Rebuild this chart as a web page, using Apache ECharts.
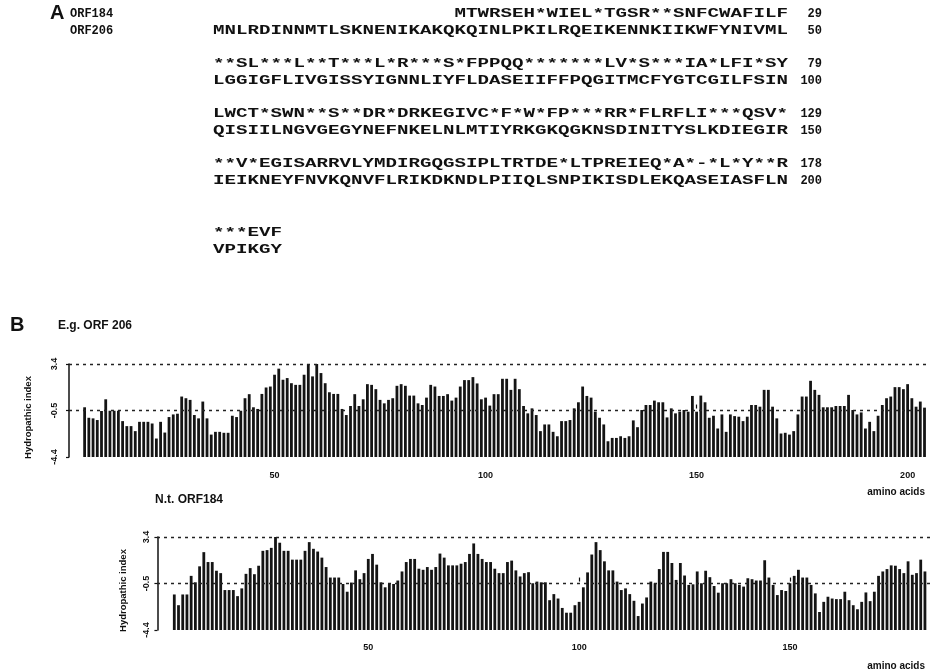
<!DOCTYPE html>
<html><head><meta charset="utf-8">
<script src="https://cdn.jsdelivr.net/npm/echarts@6/dist/echarts.min.js"></script>
<style>html,body{margin:0;padding:0;background:#fff}#c{width:930px;height:672px}</style>
</head><body><div id="c"></div>
<script>
// ---------- Panel A : sequences ----------
const orf184Lines = [
  'MTWRSEH*WIEL*TGSR**SNFCWAFILF',
  '**SL***L**T***L*R***S*FPPQQ*******LV*S***IA*LFI*SY',
  'LWCT*SWN**S**DR*DRKEGIVC*F*W*FP***RR*FLRFLI***QSV*',
  '**V*EGISARRVLYMDIRGQGSIPLTRTDE*LTPREIEQ*A*-*L*Y**R',
  '***EVF'
];
const orf206Lines = [
  'MNLRDINNMTLSKNENIKAKQKQINLPKILRQEIKENNKIIKWFYNIVML',
  'LGGIGFLIVGISSYIGNNLIYFLDASEIIFFPQGITMCFYGTCGILFSIN',
  'QISIILNGVGEGYNEFNKELNLMTIYRKGKQGKNSDINITYSLKDIEGIR',
  'IEIKNEYFNVKQNVFLRIKDKNDLPIIQLSNPIKISDLEKQASEIASFLN',
  'VPIKGY'
];
const orf184Ends = ['29', '79', '129', '178', ''];
const orf206Ends = ['50', '100', '150', '200', ''];
const rowLabels = ['ORF184', 'ORF206'];

// ---------- Panel B : hydropathy profiles ----------
const topTitle = 'E.g. ORF 206';
const bottomTitle = 'N.t. ORF184';
const topFirstResidue = 5;
const topValues = [
  -0.23,-1.11,-1.16,-1.30,-0.54,0.44,-0.52,-0.52,-0.52,-1.39,
  -1.81,-1.81,-2.23,-1.45,-1.45,-1.45,-1.59,-2.85,-1.45,-2.35,
  -1.05,-0.83,-0.77,0.67,0.53,0.39,-0.88,-1.16,0.25,-1.16,
  -2.52,-2.29,-2.29,-2.37,-2.37,-0.94,-1.05,-0.52,0.53,0.87,
  -0.23,-0.37,0.89,1.43,1.51,2.50,3.01,2.08,2.22,1.79,
  1.65,1.65,2.50,3.40,2.36,3.40,2.64,1.79,1.03,0.89,
  0.89,-0.37,-0.88,-0.12,0.87,-0.12,
  0.44,1.71,1.65,1.29,0.39,0.10,0.39,0.53,1.57,1.71,1.57,
  0.75,0.75,0.10,-0.04,0.58,1.65,1.51,0.72,0.72,0.87,
  0.33,0.58,1.51,2.05,2.05,2.30,1.77,0.44,0.58,-0.09,
  0.87,0.87,2.16,2.16,1.23,2.16,1.29,-0.12,-0.74,-0.32,
  -0.88,-2.23,-1.67,-1.67,-2.29,-2.66,-1.39,-1.39,-1.30,-0.32,
  0.19,1.51,0.72,0.58,-0.60,-1.11,-1.67,-3.08,-2.80,-2.80,
  -2.66,-2.80,-2.66,-1.33,-1.90,-0.46,-0.04,
  -0.04,0.33,0.19,0.19,-1.08,-0.32,-0.74,-0.60,-0.46,-0.60,
  0.72,-0.60,0.75,0.19,-1.11,-0.94,-2.01,-0.83,-2.29,-0.83,
  -0.97,-1.02,-1.39,-1.02,-0.04,-0.04,-0.18,1.23,1.23,-0.18,
  -1.16,-2.43,-2.37,-2.52,-2.23,-0.83,0.67,0.67,1.99,1.23,
  0.81,-0.23,-0.23,-0.23,-0.12,-0.12,-0.12,0.81,-0.46,-0.83,
  -0.66,-2.01,-1.45,-2.23,-0.94,-0.04,0.53,0.67,1.46,1.46,
  1.29,1.71,0.53,-0.18,0.25,-0.26
];
const bottomFirstResidue = 4;
const bottomValues = [
  -1.42,-2.32,-1.42,-1.42,0.14,-0.40,0.94,2.13,1.30,1.30,
  0.57,0.37,-1.05,-1.05,-1.05,-1.56,-0.91,0.31,0.79,0.28,
  0.99,2.24,2.30,2.49,3.40,2.92,2.24,2.24,1.50,1.50,
  1.50,2.24,2.97,2.41,2.18,1.67,0.88,0.00,0.00,0.00,
  -0.54,-1.19,-0.42,0.60,-0.14,0.37,1.56,1.98,1.08,-0.40,
  -0.82,-0.54,-0.54,-0.25,0.51,1.30,1.56,
  1.56,0.74,0.65,0.88,0.65,0.88,2.01,1.67,1.02,1.02,
  1.02,1.16,1.30,1.98,2.86,1.98,1.56,1.30,1.30,0.74,
  0.37,0.37,1.30,1.42,0.60,0.09,0.37,0.45,-0.48,-0.34,
  -0.40,-0.40,-1.90,-1.39,-1.76,-2.55,-2.95,-2.95,-2.32,-2.04,
  -0.82,0.43,1.93,2.97,2.30,1.36,0.60,0.60,-0.34,-1.05,
  -0.91,-1.39,-1.95,-3.23,-2.18,-1.67,-0.34,-0.48,0.71,2.15,
  2.15,1.22,-0.20,
  1.22,0.17,-0.62,-0.57,0.51,-0.48,0.57,0.03,-0.71,-1.27,
  -0.48,-0.48,-0.14,-0.48,-0.62,-0.76,-0.06,-0.14,-0.25,-0.25,
  1.45,0.00,-0.62,-1.47,-1.05,-1.13,-0.48,0.14,0.65,0.00,
  0.00,-0.62,-1.33,-2.89,-2.04,-1.61,-1.76,-1.81,-1.81,-1.19,
  -1.90,-2.32,-2.66,-2.04,-1.25,-1.98,-1.19,0.14,0.51,0.71,
  1.02,0.99,0.71,0.37,1.36,0.23,0.37,1.50,0.51
];
const yMin = -4.4, yMax = 3.4;
const refLineValues = [3.4, -0.5];
const yTickValues = [-4.4, -0.5, 3.4];
const yTickLabels = ['-4.4', '-0.5', '3.4'];
const xTickValues = [50, 100, 150, 200];
const yAxisName = 'Hydropathic index';
const xAxisName = 'amino acids';

// ---------- build ----------
const chart = echarts.init(document.getElementById('c'), null, {renderer: 'canvas'});
const toData = (first, vals) => vals.map((v, i) => [first + i, v]);

function renderBar(params, api) {
  const r = api.value(0), v = api.value(1);
  const top = api.coord([r, v]);
  const base = api.coord([r, yMin]);
  const w = 2.8;
  return {type: 'rect', shape: {x: top[0] - w / 2, y: top[1], width: w, height: base[1] - top[1]},
          style: {fill: '#141414'}};
}

const SEQ_FONT = 'bold 13px "Liberation Mono", monospace';
const LAB_FONT = 'bold 12px "Liberation Mono", monospace';
const PITCH = 11.5, NAT = 7.8, SX = PITCH / NAT;
const seqX = 213, endX = 822;
const rowY = [[14, 31], [64, 81], [114, 131], [164, 181], [233, 250]];
const graphics = [];
function seqText(str, x, y) {
  graphics.push({type: 'text', x: x, y: y, scaleX: SX, silent: true,
    style: {text: str, font: SEQ_FONT, fill: '#111', textAlign: 'left', textVerticalAlign: 'middle'}});
}
function labText(str, x, y, align) {
  graphics.push({type: 'text', x: x, y: y, silent: true,
    style: {text: str, font: LAB_FONT, fill: '#111', textAlign: align || 'left', textVerticalAlign: 'middle'}});
}
graphics.push({type: 'text', x: 50, y: 13, style: {text: 'A', font: 'bold 20px "Liberation Sans", Arial', fill: '#111', textVerticalAlign: 'middle'}});
labText(rowLabels[0], 70, rowY[0][0]);
labText(rowLabels[1], 70, rowY[0][1]);
orf184Lines.forEach((s, i) => {
  const offset = i === 0 ? 50 - s.length : 0;
  seqText(s, seqX + offset * PITCH, rowY[i][0]);
  if (orf184Ends[i]) labText(orf184Ends[i], endX, rowY[i][0], 'right');
});
orf206Lines.forEach((s, i) => {
  seqText(s, seqX, rowY[i][1]);
  if (orf206Ends[i]) labText(orf206Ends[i], endX, rowY[i][1], 'right');
});
graphics.push({type: 'text', x: 10, y: 325, style: {text: 'B', font: 'bold 20px "Liberation Sans", Arial', fill: '#111', textVerticalAlign: 'middle'}});
graphics.push({type: 'text', x: 58, y: 326, style: {text: topTitle, font: 'bold 12px "Liberation Sans", Arial', fill: '#111', textVerticalAlign: 'middle'}});
graphics.push({type: 'text', x: 155, y: 500, style: {text: bottomTitle, font: 'bold 12px "Liberation Sans", Arial', fill: '#111', textVerticalAlign: 'middle'}});
graphics.push({type: 'text', x: 925, y: 492, style: {text: xAxisName, font: 'bold 10px "Liberation Sans", Arial', fill: '#111', textAlign: 'right', textVerticalAlign: 'middle'}});
graphics.push({type: 'text', x: 925, y: 666, style: {text: xAxisName, font: 'bold 10px "Liberation Sans", Arial', fill: '#111', textAlign: 'right', textVerticalAlign: 'middle'}});

const labelStyle = {color: '#111', fontWeight: 'bold', fontSize: 9, fontFamily: '"Liberation Sans", Arial'};
function xAxisCfg(idx, min, max, offset, margin) {
  return {type: 'value', gridIndex: idx, min: min, max: max, offset: offset,
    axisLine: {show: false}, splitLine: {show: false},
    axisTick: {show: true, customValues: xTickValues, length: 4, lineStyle: {color: '#111', width: 1.2}},
    axisLabel: Object.assign({show: true, customValues: xTickValues, margin: margin}, labelStyle)};
}
function yAxisCfg(idx, margin, gap) {
  return {type: 'value', gridIndex: idx, min: yMin, max: yMax,
    name: yAxisName, nameLocation: 'middle', nameRotate: 90, nameGap: gap,
    nameTextStyle: {color: '#111', fontWeight: 'bold', fontSize: 9.5, fontFamily: '"Liberation Sans", Arial', padding: [0, 14, 0, 0]},
    axisLine: {show: true, lineStyle: {color: '#111', width: 1.5}},
    axisTick: {show: true, customValues: yTickValues, length: 3, lineStyle: {color: '#111', width: 1.2}},
    splitLine: {show: false},
    axisLabel: Object.assign({show: true, customValues: yTickValues, rotate: 90, margin: margin,
      formatter: v => yTickLabels[yTickValues.findIndex(t => Math.abs(t - v) < 1e-6)] || ''}, labelStyle)};
}
function refLines(idx) {
  return {type: 'line', xAxisIndex: idx, yAxisIndex: idx, data: [], z: 1, silent: true,
    markLine: {silent: true, symbol: 'none', animation: false, label: {show: false},
      lineStyle: {color: '#222', width: 1.3, type: [3, 4]},
      data: refLineValues.map(v => ({yAxis: v}))}};
}

chart.setOption({
  animation: false,
  backgroundColor: '#fff',
  grid: [
    {left: 69, top: 364, width: 861, height: 93},
    {left: 157, top: 537, width: 773, height: 93}
  ],
  xAxis: [xAxisCfg(0, 1.3, 205.3, 8, 6), xAxisCfg(1, -0.1, 183.2, 5, 8)],
  yAxis: [yAxisCfg(0, 10, 36), yAxisCfg(1, 6, 29)],
  series: [
    refLines(0), refLines(1),
    {type: 'custom', xAxisIndex: 0, yAxisIndex: 0, z: 2, renderItem: renderBar,
     encode: {x: 0, y: 1}, data: toData(topFirstResidue, topValues)},
    {type: 'custom', xAxisIndex: 1, yAxisIndex: 1, z: 2, renderItem: renderBar,
     encode: {x: 0, y: 1}, data: toData(bottomFirstResidue, bottomValues)}
  ],
  graphic: graphics
});
</script>
</body></html>
